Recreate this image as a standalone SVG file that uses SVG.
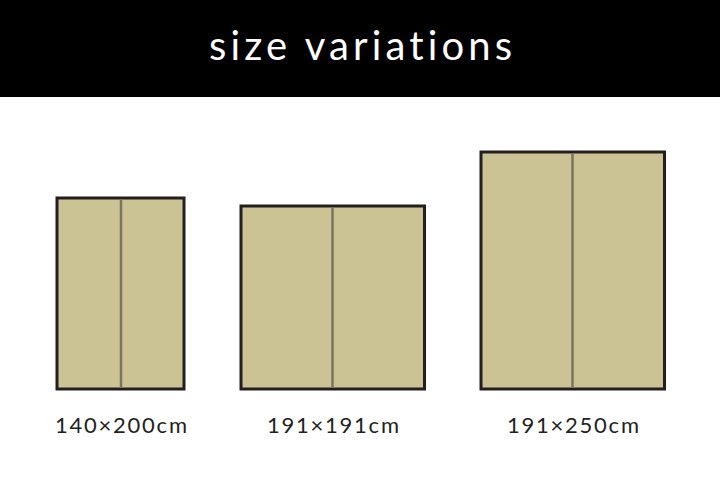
<svg xmlns="http://www.w3.org/2000/svg" width="720" height="504" viewBox="0 0 720 504">
<style>
.mat{fill:#cbc394;stroke:#231f20;stroke-width:3}
.div{stroke:#7b7461;stroke-width:2.5}
.lbl{font-family:"Lato","Liberation Sans",sans-serif;font-size:22px;fill:#231f20;text-anchor:middle}
.title{font-family:"Lato","Liberation Sans",sans-serif;font-size:40px;fill:#ffffff;text-anchor:middle;font-variant-ligatures:none;font-feature-settings:"liga" 0}
</style>
<rect x="0" y="0" width="720" height="97" fill="#000000"/>
<text class="title" x="360.5" y="60" textLength="303" lengthAdjust="spacing">size variations</text>
<g id="size-140x200">
<rect class="mat" x="57" y="198" width="127" height="191"/>
<line class="div" x1="121" y1="199" x2="121" y2="388"/>
<text class="lbl" x="121" y="433" textLength="132" lengthAdjust="spacing">140×200cm</text>
</g>
<g id="size-191x191">
<rect class="mat" x="241" y="206" width="183.5" height="183"/>
<line class="div" x1="332.5" y1="207" x2="332.5" y2="388"/>
<text class="lbl" x="333" y="433" textLength="132" lengthAdjust="spacing">191×191cm</text>
</g>
<g id="size-191x250">
<rect class="mat" x="481" y="152" width="183.5" height="237"/>
<line class="div" x1="572.5" y1="153" x2="572.5" y2="388"/>
<text class="lbl" x="573" y="433" textLength="132" lengthAdjust="spacing">191×250cm</text>
</g>
<g id="connectors"/>
</svg>
